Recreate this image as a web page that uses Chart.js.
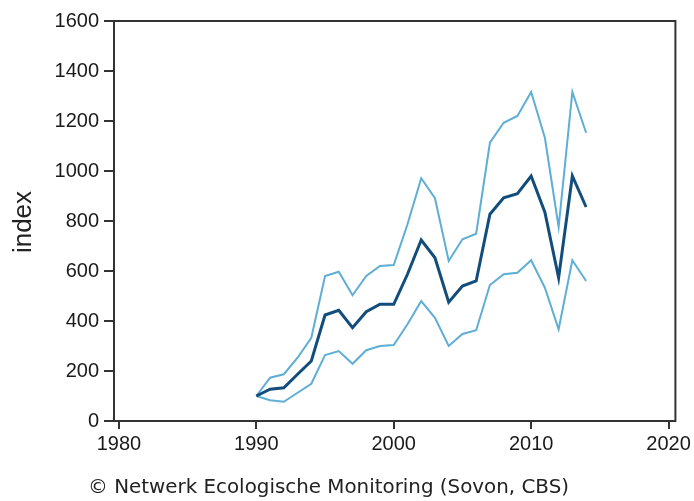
<!DOCTYPE html>
<html>
<head>
<meta charset="utf-8">
<script src="https://cdn.jsdelivr.net/npm/chart.js@4/dist/chart.umd.min.js"></script>
<style>
    html, body { margin: 0; padding: 0; background: #fff; }
    #grafiek { display: block; }
</style>
</head>
<body>
<canvas id="grafiek" width="694" height="501"></canvas>
<script>
// Jaren en indexwaarden
const jaren = [1990, 1991, 1992, 1993, 1994, 1995, 1996, 1997, 1998, 1999,
    2000, 2001, 2002, 2003, 2004, 2005, 2006, 2007, 2008, 2009,
    2010, 2011, 2012, 2013, 2014];
const indexWaarden = [100, 127, 133, 187, 240, 424, 443, 373, 437, 467,
    467, 587, 724, 653, 475, 540, 560, 827, 893, 909,
    980, 835, 573, 980, 856];
const bovengrens = [100, 173, 187, 253, 333, 580, 597, 503, 580, 620,
    624, 787, 971, 891, 640, 727, 749, 1113, 1193, 1220,
    1316, 1133, 776, 1316, 1153];
const ondergrens = [100, 83, 77, 113, 149, 264, 280, 229, 283, 300,
    304, 387, 480, 413, 300, 348, 363, 544, 587, 593,
    643, 533, 367, 643, 560];
const xTicks = [1980, 1990, 2000, 2010, 2020];
const yTicks = [0, 200, 400, 600, 800, 1000, 1200, 1400, 1600];

const bron = '\u00A9 Netwerk Ecologische Monitoring (Sovon, CBS)';
const asTitel = 'index';

const donker = '#124d7c';
const licht = '#5eaed5';
const lijnKleur = '#333333';

function punten(waarden) {
    return jaren.map((jaar, i) => ({ x: jaar, y: waarden[i] }));
}

// Kader om het plotgebied, astitel en bronvermelding
const extraTekening = {
    id: 'extraTekening',
    afterDraw(chart) {
        const ctx = chart.ctx;
        const area = chart.chartArea;
        ctx.save();
        ctx.strokeStyle = lijnKleur;
        ctx.lineWidth = 2;
        ctx.strokeRect(area.left, area.top, area.right - area.left, area.bottom - area.top);

        // astitel
        ctx.fillStyle = '#222';
        ctx.font = '26px "Liberation Sans", Arial, sans-serif';
        ctx.textAlign = 'center';
        ctx.textBaseline = 'middle';
        ctx.translate(24, 222);
        ctx.rotate(-Math.PI / 2);
        ctx.fillText(asTitel, 0, 0);
        ctx.restore();

        // bron
        ctx.save();
        ctx.fillStyle = '#222';
        ctx.font = '20px "DejaVu Sans", sans-serif';
        ctx.textAlign = 'left';
        ctx.textBaseline = 'middle';
        ctx.fillText(bron, 88, 488, 481);
        ctx.restore();
    }
};

new Chart(document.getElementById('grafiek'), {
    type: 'line',
    data: {
        datasets: [
            {
                label: 'index',
                data: punten(indexWaarden),
                borderColor: donker,
                borderWidth: 3,
                pointRadius: 0,
                tension: 0,
                order: 0
            },
            {
                label: 'bovengrens',
                data: punten(bovengrens),
                borderColor: licht,
                borderWidth: 2,
                pointRadius: 0,
                tension: 0,
                order: 1
            },
            {
                label: 'ondergrens',
                data: punten(ondergrens),
                borderColor: licht,
                borderWidth: 2,
                pointRadius: 0,
                tension: 0,
                order: 1
            }
        ]
    },
    options: {
        responsive: false,
        animation: false,
        layout: { padding: { top: 21, right: 18, bottom: 0, left: 0 } },
        plugins: {
            legend: { display: false },
            tooltip: { enabled: false }
        },
        scales: {
            x: {
                type: 'linear',
                min: 1979.64,
                max: 2020.5,
                afterBuildTicks: (scale) => {
                    scale.ticks = xTicks.map(v => ({ value: v }));
                },
                afterFit: (scale) => { scale.height = 80; },
                border: { display: false },
                grid: {
                    drawOnChartArea: false,
                    drawTicks: true,
                    tickLength: 8,
                    color: lijnKleur,
                    lineWidth: 2
                },
                ticks: {
                    color: '#1a1a1a',
                    font: { family: '"Liberation Sans", Arial, sans-serif', size: 20 },
                    padding: 3,
                    maxRotation: 0,
                    callback: (v) => String(v)
                }
            },
            y: {
                min: 0,
                max: 1600,
                afterBuildTicks: (scale) => {
                    scale.ticks = yTicks.map(v => ({ value: v }));
                },
                afterFit: (scale) => { scale.width = 114; },
                border: { display: false },
                grid: {
                    drawOnChartArea: false,
                    drawTicks: true,
                    tickLength: 10,
                    color: lijnKleur,
                    lineWidth: 2
                },
                ticks: {
                    color: '#1a1a1a',
                    font: { family: '"Liberation Sans", Arial, sans-serif', size: 20 },
                    padding: 5,
                    callback: (v) => String(v)
                }
            }
        }
    },
    plugins: [extraTekening]
});
</script>
</body>
</html>
